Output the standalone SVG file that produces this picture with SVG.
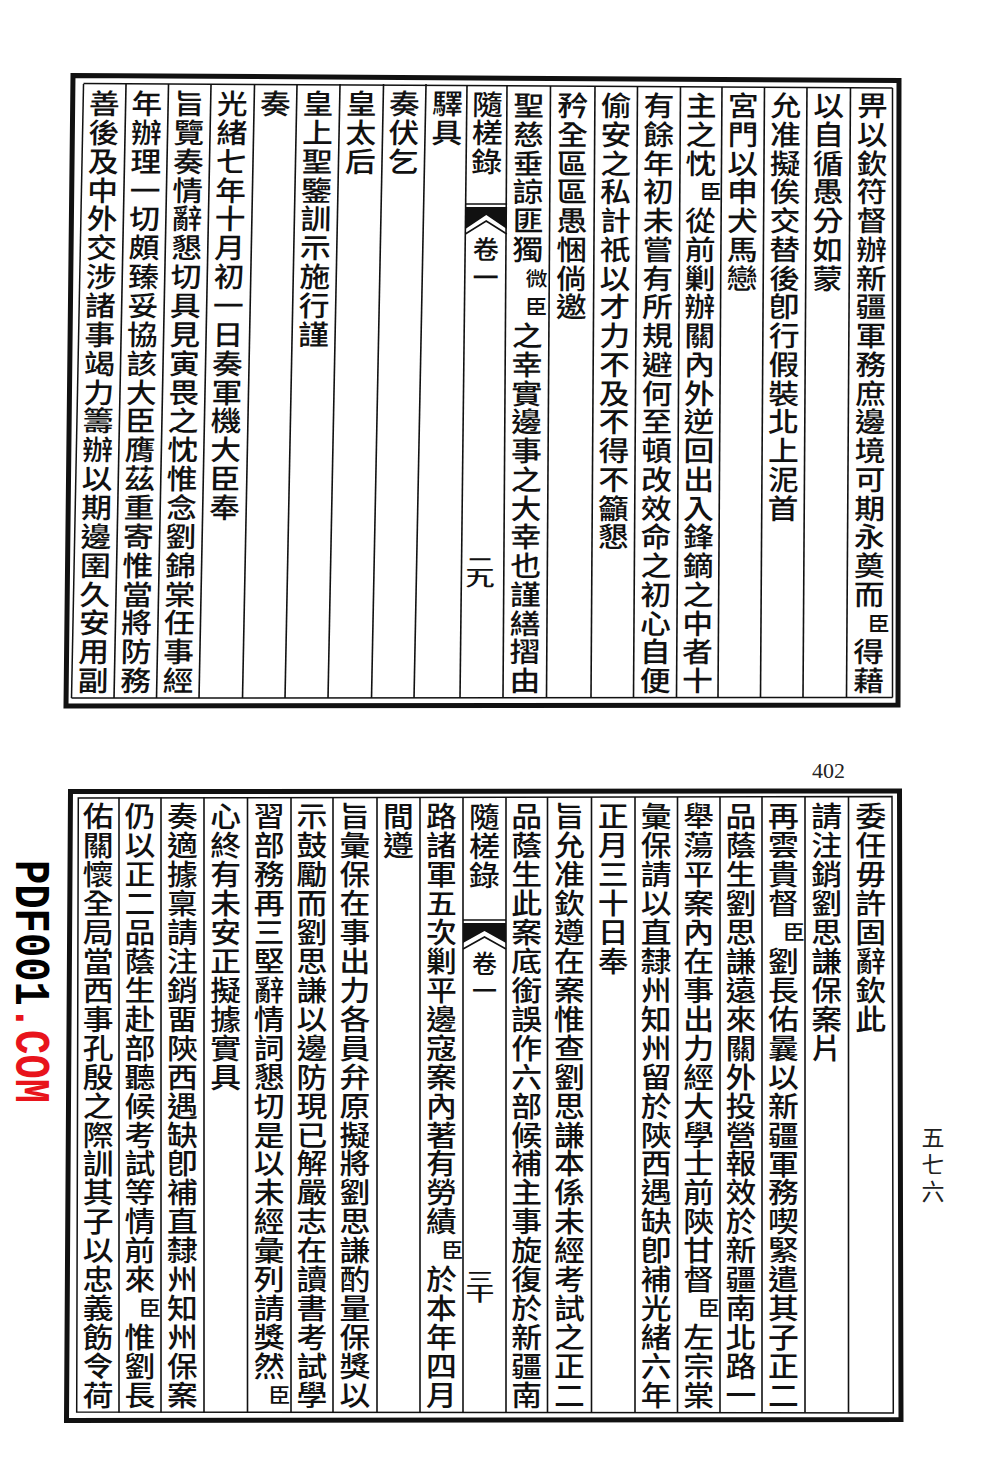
<svg xmlns="http://www.w3.org/2000/svg" width="1000" height="1476" viewBox="0 0 1000 1476">
<style>
.frame{fill:none;stroke:#111;stroke-width:5}
.inner{fill:none;stroke:#111;stroke-width:1.5}
.rule{stroke:#111;stroke-width:1.6}
text{font-family:"Noto Sans CJK TC","Noto Sans CJK SC","Noto Sans CJK JP",sans-serif;fill:#111}
.v{writing-mode:vertical-rl;font-size:28px;font-weight:500}
.vt{letter-spacing:0.76px}
.vl{letter-spacing:0.86px}
.vb{letter-spacing:0.95px}
.s{writing-mode:vertical-rl;font-size:20px;font-weight:500}
.pn{writing-mode:vertical-rl;font-size:18px;font-weight:500;letter-spacing:-2.5px}
.juan{writing-mode:vertical-rl;font-size:26px;letter-spacing:2px;font-weight:500}
.fish{fill:#111}
.chev{fill:none;stroke:#111;stroke-width:1.6}
</style>
<rect width="1000" height="1476" fill="#fff"/>

<g id="page-top">
  <g id="top-frame">
    <path class="frame" d="M73,75.5 L899,80.5 L898,705 L66,706 Z"/>
    <line class="inner" x1="83.5" y1="83.5" x2="892.5" y2="88"/>
    <line class="inner" x1="71.5" y1="698" x2="892.5" y2="697.5"/>
    <line class="inner" x1="892.5" y1="88" x2="892.5" y2="697.5"/>
  </g>
  <g id="top-right-half" transform="matrix(1 0 -0.006525 1 2.558 0)">
    <g id="top-rules-right">
      <line class="rule" x1="848.5" y1="87" x2="848.5" y2="698"/>
      <line class="rule" x1="805" y1="87" x2="805" y2="698"/>
      <line class="rule" x1="762.5" y1="87" x2="762.5" y2="698"/>
      <line class="rule" x1="720" y1="87" x2="720" y2="698"/>
      <line class="rule" x1="678.5" y1="86" x2="678.5" y2="698"/>
      <line class="rule" x1="635.5" y1="86" x2="635.5" y2="698"/>
      <line class="rule" x1="593" y1="86" x2="593" y2="698"/>
      <line class="rule" x1="548.5" y1="86" x2="548.5" y2="698"/>
      <line class="rule" x1="505" y1="86" x2="505" y2="698"/>
    </g>
    <g id="t1" transform="matrix(1.1 0 0 1 -87.05 0)"><text class="v vt" x="870.5" y="91.4">畀以欽符督辦新疆軍務庶邊境可期永奠而</text><text class="s" x="879.5" y="613.1">臣</text><text class="v vt" x="870.5" y="637.8">得藉</text></g>
    <g id="t2" transform="matrix(1.1 0 0 1 -82.675 0)"><text class="v vt" x="826.75" y="91.4">以自循愚分如蒙</text></g>
    <g id="t3" transform="matrix(1.1 0 0 1 -78.375 0)"><text class="v vt" x="783.75" y="91.4">允准擬俟交替後卽行假裝北上泥首</text></g>
    <g id="t4" transform="matrix(1.1 0 0 1 -74.125 0)"><text class="v vt" x="741.25" y="91.4">宮門以申犬馬戀</text></g>
    <g id="t5" transform="matrix(1.1 0 0 1 -69.925 0)"><text class="v vt" x="699.25" y="91.4">主之忱</text><text class="s" x="708.5" y="181.7">臣</text><text class="v vt" x="699.25" y="206.4">從前剿辦關內外逆回出入鋒鏑之中者十</text></g>
    <g id="t6" transform="matrix(1.1 0 0 1 -65.7 0)"><text class="v vt" x="657" y="91.4">有餘年初未嘗有所規避何至頓改效命之初心自便</text></g>
    <g id="t7" transform="matrix(1.1 0 0 1 -61.425 0)"><text class="v vt" x="614.25" y="91.4">偷安之私計祇以才力不及不得不籲懇</text></g>
    <g id="t8" transform="matrix(1.1 0 0 1 -57.075 0)"><text class="v vt" x="570.75" y="91.4">矜全區區愚悃倘邀</text></g>
    <g id="t9" transform="matrix(1.1 0 0 1 -52.675 0)"><text class="v vt" x="526.75" y="91.4">聖慈垂諒匪獨</text><text class="s" x="535" y="268">微</text><text class="s" x="535" y="296.7">臣</text><text class="v vt" x="526.75" y="321.5">之幸實邊事之大幸也謹繕摺由</text></g>
  </g>
  <g id="top-fold" transform="matrix(1 0 -0.011419 1 4.476 0)">
    <line class="rule" x1="463.5" y1="85" x2="463.5" y2="698"/>
    <g transform="matrix(1.1 0 0 1 -48.425 0)"><text class="v vt" x="484.25" y="90">隨槎錄</text></g>
    <line class="rule" x1="463.5" y1="204" x2="505" y2="204"/>
    <polygon class="fish" points="463.5,207 505,207 505,229 484.25,215 463.5,229"/>
    <polyline class="chev" points="463.5,234 484.25,221 505,234"/>
    <text class="juan" x="484.25" y="236">卷一</text>
    <g transform="translate(482,555) scale(1.6,1)"><text class="pn" x="0" y="0">二九</text></g>
  </g>
  <g id="top-left-half" transform="matrix(1 0 -0.019576 1 7.674 0)">
    <g id="top-rules-left">
      <line class="rule" x1="420" y1="84" x2="420" y2="698"/>
      <line class="rule" x1="377.5" y1="84" x2="377.5" y2="698"/>
      <line class="rule" x1="334" y1="84" x2="334" y2="698"/>
      <line class="rule" x1="291" y1="84" x2="291" y2="698"/>
      <line class="rule" x1="248.5" y1="84" x2="248.5" y2="698"/>
      <line class="rule" x1="205" y1="84" x2="205" y2="698"/>
      <line class="rule" x1="162.5" y1="84" x2="162.5" y2="698"/>
      <line class="rule" x1="120" y1="84" x2="120" y2="698"/>
      <line class="inner" x1="77.5" y1="84" x2="77.5" y2="698"/>
    </g>
    <g id="t10" transform="matrix(1.1 0 0 1 -44.175 0)"><text class="v vl" x="441.75" y="89.4">驛具</text></g>
    <g id="t11" transform="matrix(1.1 0 0 1 -39.875 0)"><text class="v vl" x="398.75" y="89.4">奏伏乞</text></g>
    <g id="t12" transform="matrix(1.1 0 0 1 -35.575 0)"><text class="v vl" x="355.75" y="89.4">皇太后</text></g>
    <g id="t13" transform="matrix(1.1 0 0 1 -31.25 0)"><text class="v vl" x="312.5" y="89.4">皇上聖鑒訓示施行謹</text></g>
    <g id="t14" transform="matrix(1.1 0 0 1 -26.975 0)"><text class="v vl" x="269.75" y="89.4">奏</text></g>
    <g id="t15" transform="matrix(1.1 0 0 1 -22.675 0)"><text class="v vl" x="226.75" y="89.4">光緒七年十月初一日奏軍機大臣奉</text></g>
    <g id="t16" transform="matrix(1.1 0 0 1 -18.375 0)"><text class="v vl" x="183.75" y="89.4">旨覽奏情辭懇切具見寅畏之忱惟念劉錦棠任事經</text></g>
    <g id="t17" transform="matrix(1.1 0 0 1 -14.125 0)"><text class="v vl" x="141.25" y="89.4">年辦理一切頗臻妥協該大臣膺茲重寄惟當將防務</text></g>
    <g id="t18" transform="matrix(1.1 0 0 1 -9.875 0)"><text class="v vl" x="98.75" y="89.4">善後及中外交涉諸事竭力籌辦以期邊圉久安用副</text></g>
  </g>
</g>

<text id="scan-page-number" x="812" y="778" style="font-family:'Liberation Serif',serif;font-size:22px;fill:#222">402</text>

<g id="page-bottom">
  <g id="bottom-frame">
    <path class="frame" d="M70.5,791.5 L899.5,791 L901,1419.5 L66.5,1420.5 Z"/>
    <path class="inner" d="M78.3,798 L892,796.5 L893.3,1413 L76.7,1412 Z"/>
  </g>
  <g id="bottom-rules">
    <line class="rule" x1="848.5" y1="797" x2="848.5" y2="1412.5"/>
    <line class="rule" x1="805" y1="797" x2="805" y2="1412.5"/>
    <line class="rule" x1="762" y1="797" x2="762" y2="1412.5"/>
    <line class="rule" x1="720" y1="797" x2="720" y2="1412.5"/>
    <line class="rule" x1="677.5" y1="797" x2="677.5" y2="1412.5"/>
    <line class="rule" x1="635" y1="797" x2="635" y2="1412.5"/>
    <line class="rule" x1="591.5" y1="797" x2="591.5" y2="1412.5"/>
    <line class="rule" x1="547.5" y1="797" x2="547.5" y2="1412.5"/>
    <line class="rule" x1="506" y1="797" x2="506" y2="1412.5"/>
    <line class="rule" x1="463" y1="797.5" x2="463" y2="1412.5"/>
    <line class="rule" x1="420" y1="797.5" x2="420" y2="1412.5"/>
    <line class="rule" x1="377" y1="797.5" x2="377" y2="1412.5"/>
    <line class="rule" x1="333" y1="797.5" x2="333" y2="1412.5"/>
    <line class="rule" x1="291" y1="797.5" x2="291" y2="1412.5"/>
    <line class="rule" x1="247.5" y1="797.5" x2="247.5" y2="1412.5"/>
    <line class="rule" x1="204" y1="797.5" x2="204" y2="1412.5"/>
    <line class="rule" x1="161" y1="797.5" x2="161" y2="1412.5"/>
    <line class="rule" x1="119" y1="797.5" x2="119" y2="1412.5"/>
  </g>
  <g id="b1" transform="matrix(1.1 0 0 1 -87.075 0)"><text class="v vb" x="870.75" y="802.5">委任毋許固辭欽此</text></g>
  <g id="b2" transform="matrix(1.1 0 0 1 -82.675 0)"><text class="v vb" x="826.75" y="802.5">請注銷劉思謙保案片</text></g>
  <g id="b3" transform="matrix(1.1 0 0 1 -78.35 0)"><text class="v vb" x="783.5" y="802.5">再雲貴督</text><text class="s" x="793" y="922.3">臣</text><text class="v vb" x="783.5" y="947.25">劉長佑曩以新疆軍務喫緊遣其子正二</text></g>
  <g id="b4" transform="matrix(1.1 0 0 1 -74.1 0)"><text class="v vb" x="741" y="802.5">品蔭生劉思謙遠來關外投營報效於新疆南北路一</text></g>
  <g id="b5" transform="matrix(1.1 0 0 1 -69.875 0)"><text class="v vb" x="698.75" y="802.5">舉蕩平案內在事出力經大學士前陝甘督</text><text class="s" x="708" y="1298.65">臣</text><text class="v vb" x="698.75" y="1323.6">左宗棠</text></g>
  <g id="b6" transform="matrix(1.1 0 0 1 -65.625 0)"><text class="v vb" x="656.25" y="802.5">彙保請以直隸州知州留於陝西遇缺卽補光緒六年</text></g>
  <g id="b7" transform="matrix(1.1 0 0 1 -61.325 0)"><text class="v vb" x="613.25" y="802.5">正月三十日奉</text></g>
  <g id="b8" transform="matrix(1.1 0 0 1 -56.95 0)"><text class="v vb" x="569.5" y="802.5">旨允准欽遵在案惟查劉思謙本係未經考試之正二</text></g>
  <g id="b9" transform="matrix(1.1 0 0 1 -52.675 0)"><text class="v vb" x="526.75" y="802.5">品蔭生此案底銜誤作六部候補主事旋復於新疆南</text></g>
  <g id="bottom-fold">
    <g transform="matrix(1.1 0 0 1 -48.45 0)"><text class="v vb" x="484.5" y="803">隨槎錄</text></g>
    <line class="rule" x1="463" y1="920" x2="506" y2="920"/>
    <polygon class="fish" points="463,923 506,923 506,943 484.5,931 463,943"/>
    <polyline class="chev" points="463,949 484.5,937 506,949"/>
    <text class="juan" x="484.5" y="951" style="font-size:25px">卷一</text>
    <g transform="translate(480,1270) scale(1.6,1)"><text class="pn" x="0" y="0">三十</text></g>
  </g>
  <g id="b10" transform="matrix(1.1 0 0 1 -44.15 0)"><text class="v vb" x="441.5" y="802.5">路諸軍五次剿平邊寇案內著有勞績</text><text class="s" x="451.5" y="1240.75">臣</text><text class="v vb" x="441.5" y="1265.7">於本年四月</text></g>
  <g id="b11" transform="matrix(1.1 0 0 1 -39.85 0)"><text class="v vb" x="398.5" y="802.5">間遵</text></g>
  <g id="b12" transform="matrix(1.1 0 0 1 -35.5 0)"><text class="v vb" x="355" y="802.5">旨彙保在事出力各員弁原擬將劉思謙酌量保獎以</text></g>
  <g id="b13" transform="matrix(1.1 0 0 1 -31.2 0)"><text class="v vb" x="312" y="802.5">示鼓勵而劉思謙以邊防現已解嚴志在讀書考試學</text></g>
  <g id="b14" transform="matrix(1.1 0 0 1 -26.925 0)"><text class="v vb" x="269.25" y="802.5">習部務再三堅辭情詞懇切是以未經彙列請獎然</text><text class="s" x="278.5" y="1385.5">臣</text></g>
  <g id="b15" transform="matrix(1.1 0 0 1 -22.575 0)"><text class="v vb" x="225.75" y="802.5">心終有未安正擬據實具</text></g>
  <g id="b16" transform="matrix(1.1 0 0 1 -18.25 0)"><text class="v vb" x="182.5" y="802.5">奏適據稟請注銷畱陝西遇缺卽補直隸州知州保案</text></g>
  <g id="b17" transform="matrix(1.1 0 0 1 -14 0)"><text class="v vb" x="140" y="802.5">仍以正二品蔭生赴部聽候考試等情前來</text><text class="s" x="149" y="1298.65">臣</text><text class="v vb" x="140" y="1323.6">惟劉長</text></g>
  <g id="b18" transform="matrix(1.1 0 0 1 -9.825 0)"><text class="v vb" x="98.25" y="802.5">佑關懷全局當西事孔殷之際訓其子以忠義飭令荷</text></g>
</g>

<text id="volume-page" x="933" y="1126" style="writing-mode:vertical-rl;font-size:23px;letter-spacing:4px;fill:#222">五七六</text>

<text id="watermark" transform="translate(15.5,860) rotate(90)" x="0" y="0" textLength="243" lengthAdjust="spacingAndGlyphs" style="font-family:'Liberation Mono',monospace;font-weight:bold;font-size:50px"><tspan fill="#000">PDF001</tspan><tspan fill="#e8141c">.COM</tspan></text>
</svg>
